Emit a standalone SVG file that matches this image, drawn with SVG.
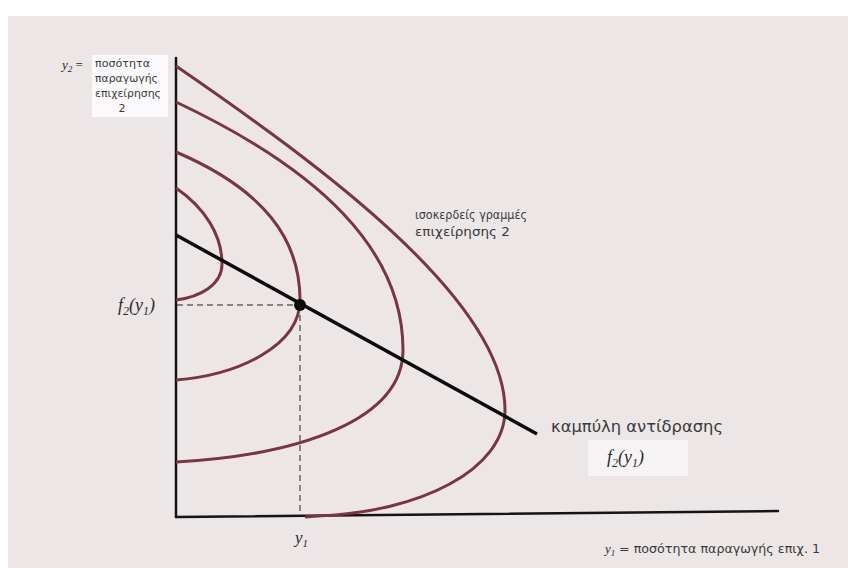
<svg xmlns="http://www.w3.org/2000/svg" width="848" height="568" viewBox="0 0 848 568">
  <style>
    .axis { stroke: #141414; stroke-width: 2.5; fill: none; stroke-linecap: round; }
    .iso { stroke: #7a3444; stroke-width: 3; fill: none; }
    .react { stroke: #0c0c0c; stroke-width: 3.5; fill: none; }
    .dash { stroke: #222; stroke-width: 1; stroke-dasharray: 6 4; fill: none; }
    .gr { font-family: "DejaVu Sans", "Liberation Sans", sans-serif; fill: #3a3a3a; }
    .math { font-family: "Liberation Serif", serif; font-style: italic; fill: #2a2a2a; }
  </style>
  <rect x="0" y="0" width="848" height="568" fill="#ffffff"/>
  <rect x="8" y="16" width="840" height="552" fill="#ece6e7"/>

  <g id="axes">
    <line class="axis" x1="176" y1="58" x2="176" y2="517"/>
    <line class="axis" x1="176" y1="517" x2="778" y2="511"/>
  </g>

  <g id="isoprofit-curves">
    <path class="iso" d="M176,66 C320,165 505,300 505,410 C505,470 420,512 318,516 L305,517"/>
    <path class="iso" d="M176,102 C320,170 403,250 403,350 C403,420 300,455 176,462"/>
    <path class="iso" d="M176,152 C265,190 300,240 300,300 C300,345 240,375 176,380"/>
    <path class="iso" d="M176,188 C205,208 222,235 222,264 C222,285 200,297 176,300"/>
  </g>

  <g id="connectors">
    <line class="dash" x1="177" y1="305" x2="300" y2="305"/>
    <line class="dash" x1="300" y1="305" x2="300" y2="516"/>
    <line class="react" x1="176" y1="235" x2="537" y2="434"/>
  </g>

  <g id="equilibrium">
    <circle cx="300" cy="305" r="6" fill="#0a0a0a"/>
  </g>

  <g id="label-y2">
    <rect x="92" y="55" width="76" height="62" fill="#fbf9fb"/>
    <text class="math" x="62" y="69" font-size="13">y<tspan font-size="9" dy="3">2</tspan><tspan dy="-3" font-style="normal"> =</tspan></text>
    <text class="gr" x="95" y="67" font-size="10.5" textLength="55" lengthAdjust="spacingAndGlyphs">ποσότητα</text>
    <text class="gr" x="95" y="82" font-size="10.5" textLength="63" lengthAdjust="spacingAndGlyphs">παραγωγής</text>
    <text class="gr" x="95" y="97" font-size="10.5" textLength="66" lengthAdjust="spacingAndGlyphs">επιχείρησης</text>
    <text class="gr" x="122" y="112" font-size="11" text-anchor="middle">2</text>
  </g>

  <g id="label-f2y1">
    <text class="math" x="118" y="311" font-size="18">f<tspan font-size="12" dy="4">2</tspan><tspan dy="-4">(y</tspan><tspan font-size="12" dy="4">1</tspan><tspan dy="-4">)</tspan></text>
  </g>

  <g id="label-isoprofit">
    <text class="gr" x="415" y="219" font-size="13" textLength="112" lengthAdjust="spacingAndGlyphs">ισοκερδείς γραμμές</text>
    <text class="gr" x="415" y="236" font-size="13" textLength="95" lengthAdjust="spacingAndGlyphs">επιχείρησης 2</text>
  </g>

  <g id="label-reaction">
    <rect x="588" y="440" width="100" height="36" fill="#f7f4f6"/>
    <text class="gr" x="551" y="432" font-size="16" textLength="172" lengthAdjust="spacingAndGlyphs" fill="#1e1e1e">καμπύλη αντίδρασης</text>
    <text class="math" x="607" y="463" font-size="18">f<tspan font-size="12" dy="4">2</tspan><tspan dy="-4">(y</tspan><tspan font-size="12" dy="4">1</tspan><tspan dy="-4">)</tspan></text>
  </g>

  <g id="label-y1">
    <text class="math" x="295" y="543" font-size="17">y<tspan font-size="11" dy="4">1</tspan></text>
  </g>

  <g id="label-x-axis">
    <text class="math" x="605" y="553" font-size="13">y<tspan font-size="9" dy="3">1</tspan></text>
    <text class="gr" x="619" y="553" font-size="12.5" textLength="201" lengthAdjust="spacingAndGlyphs">= ποσότητα παραγωγής επιχ. 1</text>
  </g>
</svg>
